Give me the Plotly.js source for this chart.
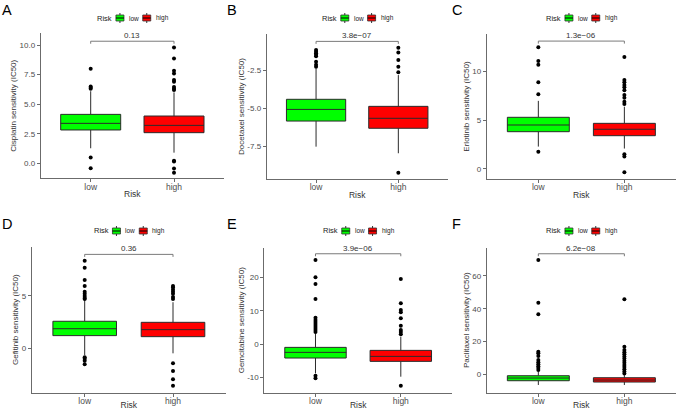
<!DOCTYPE html>
<html>
<head>
<meta charset="utf-8">
<script src="https://cdn.plot.ly/plotly-3.0.1.min.js"></script>
<style>html,body{margin:0;padding:0;background:#fff;}#chart{width:677px;height:410px;}</style>
</head>
<body>
<div id="chart"></div>
<script>
// ---------------- DATA ----------------
const drugs = ['Cisplatin', 'Docetaxel', 'Erlotinib', 'Gefitinib', 'Gemcitabine', 'Paclitaxel'];
const panelLabels = ['A', 'B', 'C', 'D', 'E', 'F'];
const groups = ['low', 'high'];
const legendTitle = 'Risk';
const pValues = ['0.13', '3.8e\u221207', '1.3e\u221206', '0.36', '3.9e\u221206', '6.2e\u221208'];

// box statistics, low-risk group
const q1Low  = [2.82, -5.83, 3.83, 1.21, -4.2, -3.9];
const medLow = [3.38, -5.07, 4.52, 1.87, -2.5, -2.26];
const q3Low  = [4.14, -4.41, 5.31, 2.58, -1.0, -0.85];
const loLow  = [1.27, -7.5, 2.3, -0.64, -8.8, -6.5];
const hiLow  = [6.1, -2.4, 7.0, 4.6, 3.2, 1.5];
// box statistics, high-risk group
const q1High  = [2.59, -6.30, 3.42, 1.11, -5.2, -4.7];
const medHigh = [3.21, -5.65, 4.08, 1.78, -3.7, -3.48];
const q3High  = [4.0, -4.87, 4.69, 2.48, -1.9, -2.07];
const loHigh  = [0.9, -7.93, 2.1, -0.48, -9.8, -6.5];
const hiHigh  = [6.0, -2.83, 6.4, 4.4, 2.2, -0.5];

// outliers
const outLow = [
  [8.0, 6.5, 6.4, 6.3, 0.5, -0.42],
  [-1.2, -1.3, -1.4, -1.5, -1.6, -1.96, -2.15, -2.28],
  [12.5, 11.1, 10.7, 8.9, 7.68, 1.78],
  [8.37, 7.7, 6.52, 5.95, 5.4, 5.2, 5.0, 4.8, 4.7, -0.86, -1.0, -1.2, -1.53],
  [25.2, 20.0, 18.0, 13.5, 7.9, 7.2, 6.6, 6.0, 5.4, 4.8, 4.2, 3.6, -9.5, -10.3],
  [69.7, 43.7, 36.6, 13.8, 12.8, 11.2, 8.7, 7.4, 6.2, 5.0, 3.8, 2.6]
];
const outHigh = [
  [9.8, 8.87, 7.83, 7.6, 7.05, 6.9, 6.45, 6.3, 6.2, 0.22, 0.15, -0.45, -0.79],
  [-1.04, -1.35, -1.85, -2.28, -2.65, -9.2],
  [11.5, 9.15, 8.9, 8.63, 8.4, 8.1, 7.6, 7.33, 6.92, 6.68, 1.51, 1.27, -0.34],
  [5.95, 5.8, 5.6, 5.4, 5.2, 4.9, 4.7, -1.43, -2.17, -2.96, -3.57],
  [19.5, 12.2, 10.2, 9.5, 7.7, 5.5, 4.2, 3.6, 2.9, -12.5],
  [45.8, 16.8, 14.8, 13.5, 12.2, 10.9, 9.6, 8.3, 7.0, 5.7, 4.4, 3.1, 1.8, 0.5]
];

// axis ticks
const yTicks = [
  [0, 2.5, 5, 7.5, 10],
  [-7.5, -5, -2.5],
  [0, 5, 10],
  [0, 5],
  [-10, 0, 10, 20],
  [0, 20, 40, 60]
];
const yTickFormat = ['.1f', '.1f', 'd', 'd', 'd', 'd'];
const yRanges = [
  [-1.27, 11.0],
  [-9.61, -0.15],
  [-1.03, 13.87],
  [-4.24, 9.70],
  [-14.6, 28.9],
  [-11.2, 77.2]
];

// ---------------- LAYOUT GEOMETRY ----------------
const W = 677, H = 410;
const px = [ [40.7, 224], [266.7, 447.7], [486.7, 676], [31.7, 226], [264.3, 452], [486.7, 676] ];
const py = [ [33.3, 178.3], [34, 179], [34, 179], [246.7, 392.7], [247.7, 392.7], [247.7, 392.7] ];
const letterPos = [ [0, 0], [225, 0], [450, 0], [0, 214], [225, 214], [450, 214] ];
const legendY = [18, 18, 18, 231, 231, 231];

const colors = { low: '#00FF00', high: '#FF0000' };
const axisColor = '#6b6b6b';
const font = 'Liberation Sans, Arial, sans-serif';

const traces = [];
const layout = {
  width: W, height: H,
  margin: { l: 0, r: 0, t: 0, b: 0 },
  paper_bgcolor: '#fff', plot_bgcolor: '#fff',
  font: { family: font, color: '#333' },
  showlegend: false,
  annotations: [],
  shapes: [],
  hovermode: false
};

const fx = v => v / W;
const fy = v => 1 - v / H;

for (let i = 0; i < 6; i++) {
  const n = i + 1;
  const xa = n === 1 ? 'x' : 'x' + n;
  const ya = n === 1 ? 'y' : 'y' + n;

  const stats = {
    low:  { q1: q1Low[i],  med: medLow[i],  q3: q3Low[i],  lo: loLow[i],  hi: hiLow[i],  out: outLow[i] },
    high: { q1: q1High[i], med: medHigh[i], q3: q3High[i], lo: loHigh[i], hi: hiHigh[i], out: outHigh[i] }
  };

  groups.forEach(g => {
    const s = stats[g];
    traces.push({
      type: 'box', name: g, x: [g],
      q1: [s.q1], median: [s.med], q3: [s.q3], lowerfence: [s.lo], upperfence: [s.hi],
      xaxis: xa, yaxis: ya,
      fillcolor: colors[g],
      line: { color: '#2b2b2b', width: 1 },
      whiskerwidth: 0, width: 0.72,
      boxpoints: false
    });
    traces.push({
      type: 'scatter', mode: 'markers',
      x: s.out.map(() => g), y: s.out,
      xaxis: xa, yaxis: ya,
      marker: { color: '#000', size: 4 }
    });
  });

  // significance bracket derived from data extent
  const all = [].concat(outLow[i], outHigh[i], [hiLow[i], hiHigh[i], loLow[i], loHigh[i]]);
  const mx = Math.max(...all), mn = Math.min(...all);
  const span = mx - mn;
  const by = mx + 0.05 * span;
  const leg = 0.02 * span;
  traces.push({
    type: 'scatter', mode: 'lines',
    x: ['low', 'low', 'high', 'high'], y: [by - leg, by, by, by - leg],
    xaxis: xa, yaxis: ya,
    line: { color: '#7a7a7a', width: 1 }
  });
  layout.annotations.push({
    xref: xa, yref: ya, x: 0.5, y: by, yanchor: 'bottom', yshift: -1,
    text: pValues[i], showarrow: false,
    font: { size: 8, color: '#333', family: font }
  });

  const xd = [px[i][0] / W, px[i][1] / W];
  const yd = [1 - py[i][1] / H, 1 - py[i][0] / H];

  layout['xaxis' + (n === 1 ? '' : n)] = {
    domain: xd, anchor: ya, type: 'category',
    categoryorder: 'array', categoryarray: groups,
    range: [-0.6, 1.6],
    showline: true, linecolor: axisColor, linewidth: 1,
    ticks: 'outside', ticklen: 3, tickcolor: axisColor, tickwidth: 1,
    ticklabelstandoff: -3, tickangle: 0,
    tickfont: { size: 8.5, color: '#4D4D4D', family: font },
    showgrid: false, zeroline: false, automargin: false,
    title: { text: 'Risk', font: { size: 8.5, color: '#333', family: font }, standoff: 0 }
  };
  layout['yaxis' + (n === 1 ? '' : n)] = {
    domain: yd, anchor: xa,
    range: yRanges[i],
    tickvals: yTicks[i], ticktext: yTicks[i].map(v => yTickFormat[i] === 'd' ? String(v) : v.toFixed(1)),
    tickangle: 0,
    showline: true, linecolor: axisColor, linewidth: 1,
    ticks: 'outside', ticklen: 3, tickcolor: axisColor, tickwidth: 1,
    tickfont: { size: 8, color: '#4D4D4D', family: font },
    showgrid: false, zeroline: false, automargin: false,
    title: { text: drugs[i] + ' sensitivity (IC50)', font: { size: 8, color: '#333', family: font }, standoff: 1 }
  };

  // legend (ggplot-style key row above each panel)
  const cx = (px[i][0] + px[i][1]) / 2;
  const ly = legendY[i];
  layout.annotations.push({
    xref: 'paper', yref: 'paper', x: fx(cx - 37), y: fy(ly),
    xanchor: 'left', yanchor: 'middle', text: legendTitle, showarrow: false,
    font: { size: 7.5, color: '#222', family: font }
  });
  const keyOffsets = [-12.4, 14.4];
  const textOffsets = [-5.5, 21.6];
  groups.forEach((g, k) => {
    const kx = cx + keyOffsets[k];
    layout.shapes.push({
      type: 'line', xref: 'paper', yref: 'paper',
      x0: fx(kx), x1: fx(kx), y0: fy(ly - 5), y1: fy(ly + 5),
      line: { color: '#333', width: 1 }
    });
    layout.shapes.push({
      type: 'rect', xref: 'paper', yref: 'paper',
      x0: fx(kx - 4), x1: fx(kx + 4), y0: fy(ly - 3), y1: fy(ly + 3),
      fillcolor: colors[g], line: { color: '#333', width: 0.8 }
    });
    layout.shapes.push({
      type: 'line', xref: 'paper', yref: 'paper',
      x0: fx(kx - 4), x1: fx(kx + 4), y0: fy(ly), y1: fy(ly),
      line: { color: '#000', width: 1 }
    });
    layout.annotations.push({
      xref: 'paper', yref: 'paper', x: fx(cx + textOffsets[k]), y: fy(ly),
      xanchor: 'left', yanchor: 'middle', text: g, showarrow: false,
      font: { size: 6.5, color: '#222', family: font }
    });
  });

  layout.annotations.push({
    xref: 'paper', yref: 'paper',
    x: letterPos[i][0] / W, y: 1 - letterPos[i][1] / H,
    xanchor: 'left', yanchor: 'top',
    text: panelLabels[i], showarrow: false,
    font: { size: 14.5, color: '#000', family: font }
  });
}

Plotly.newPlot('chart', traces, layout, { staticPlot: true, displayModeBar: false });
</script>
</body>
</html>
